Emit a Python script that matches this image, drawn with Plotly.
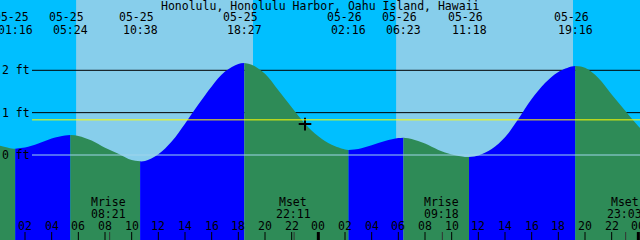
import plotly.graph_objects as go

# ---------------- data ----------------
TITLE = "Honolulu, Honolulu Harbor, Oahu Island, Hawaii"

# hourly tide level readings (ft); hour 0 = 05-25 00:00
hours = list(range(0, 50))
levels = [0.23, 0.155, 0.175, 0.27, 0.39, 0.46, 0.45, 0.34, 0.17, 0.03,
          -0.12, -0.14, 0.02, 0.32, 0.74, 1.19, 1.62, 1.97, 2.15, 2.13,
          1.92, 1.53, 1.13, 0.74, 0.44, 0.24, 0.13, 0.14, 0.23, 0.33,
          0.40, 0.38, 0.27, 0.12, 0.01, -0.045, -0.01, 0.14, 0.42, 0.85,
          1.32, 1.70, 1.96, 2.09, 2.06, 1.82, 1.43, 1.05, 0.68, 0.36]

# high / low tide events
event_dates = ["05-25", "05-25", "05-25", "05-25", "05-26", "05-26", "05-26", "05-26"]
event_times = ["01:16", "05:24", "10:38", "18:27", "02:16", "06:23", "11:18", "19:16"]
event_levels = [0.15, 0.47, -0.15, 2.17, 0.12, 0.41, -0.05, 2.10]

# sun
sunrise_times = ["05-25 05:50", "05-26 05:50"]
sunset_times = ["05-25 19:06", "05-26 19:06"]

# moon
moon_names = ["Mrise", "Mset", "Mrise", "Mset"]
moon_dates = ["05-25", "05-25", "05-26", "05-26"]
moon_times = ["08:21", "22:11", "09:18", "23:03"]

# reference lines
ref_levels = [0, 1, 2]
ref_labels = ["0 ft", "1 ft", "2 ft"]
mean_level = 0.83

# hour ticks
tick_hours = [0, 2, 4, 6, 8, 10, 12, 14, 16, 18, 20, 22, 24,
              26, 28, 30, 32, 34, 36, 38, 40, 42, 44, 46, 48]
tick_labels = ["00", "02", "04", "06", "08", "10", "12", "14", "16", "18", "20", "22", "00",
               "02", "04", "06", "08", "10", "12", "14", "16", "18", "20", "22", "00"]

# current time marker
now_time = "05-25 23:00"
now_level = 0.73

# ---------------- helpers ----------------
def to_hours(date, hm):
    day = int(date.split("-")[1]) - 25
    h, m = hm.split(":")
    return day * 24 + int(h) + int(m) / 60.0

def stamp_hours(s):
    d, t = s.split(" ")
    return to_hours(d, t)

W, H = 640, 240
X_RANGE = [0.125, 48.125]
PX_PER_H = W / (X_RANGE[1] - X_RANGE[0])
Y_RANGE = [-2.007, 3.660]

def py(px):  # pixel-from-top to paper y
    return 1 - px / H

NIGHT = "#00BFFF"
DAY = "#87CEEB"
RISE = "#0000FF"
FALL = "#2E8B57"
FONT = dict(family="DejaVu Sans Mono", size=11.5, color="black")

fig = go.Figure()

# ---------------- tide fills ----------------
ext_h = [to_hours(d, t) for d, t in zip(event_dates, event_times)]
bounds = [hours[0]] + ext_h + [hours[-1]]
bound_lv = [levels[0]] + event_levels + [levels[-1]]
BASE = Y_RANGE[0] - 1
for i in range(len(bounds) - 1):
    a, b = bounds[i], bounds[i + 1]
    xs = [a] + [h for h in hours if a < h < b] + [b]
    ys = [bound_lv[i]] + [lv for h, lv in zip(hours, levels) if a < h < b] + [bound_lv[i + 1]]
    color = RISE if bound_lv[i + 1] > bound_lv[i] else FALL
    fig.add_trace(go.Scatter(x=[a, b], y=[BASE, BASE], mode="lines",
                             line=dict(width=0), hoverinfo="skip", showlegend=False))
    fig.add_trace(go.Scatter(x=xs, y=ys, mode="lines", fill="tonexty", fillcolor=color,
                             line=dict(width=0, shape="spline", color=color),
                             hoverinfo="skip", showlegend=False))

# current time marker
fig.add_trace(go.Scatter(x=[stamp_hours(now_time)], y=[now_level], mode="markers",
                         marker=dict(symbol="cross-thin", size=9,
                                     line=dict(color="black", width=2)),
                         hoverinfo="skip", showlegend=False))

shapes = []
# sky: night / day bands
sr = [stamp_hours(s) for s in sunrise_times]
ss = [stamp_hours(s) for s in sunset_times]
edges = [-1] + sorted(sr + ss) + [50]
for i in range(len(edges) - 1):
    col = NIGHT if i % 2 == 0 else DAY
    shapes.append(dict(type="rect", xref="x", yref="paper", x0=edges[i], x1=edges[i + 1],
                       y0=0, y1=1, fillcolor=col, line=dict(width=0), layer="below"))

label_x0 = 32 / W
# black reference lines (under tide)
for lv in ref_levels:
    if lv == 0:
        continue
    shapes.append(dict(type="line", xref="paper", yref="y", x0=label_x0, x1=1, y0=lv, y1=lv,
                       line=dict(color="black", width=1), layer="below"))
# datum line and mean line (over tide)
shapes.append(dict(type="line", xref="paper", yref="y", x0=label_x0, x1=1, y0=0, y1=0,
                   line=dict(color="#9FD5EC", width=1), layer="above"))
shapes.append(dict(type="line", xref="paper", yref="y", x0=label_x0, x1=1,
                   y0=mean_level, y1=mean_level,
                   line=dict(color="#FFFF00", width=1), layer="above"))

# hour tick marks
tick_h_paper = 8 / H
half = 1.5 / PX_PER_H
for h in tick_hours:
    if h % 24 == 0:
        shapes.append(dict(type="rect", xref="x", yref="paper", x0=h - half, x1=h + half,
                           y0=0, y1=tick_h_paper, fillcolor="black", line=dict(width=0),
                           layer="above"))
    else:
        shapes.append(dict(type="line", xref="x", yref="paper", x0=h, x1=h,
                           y0=0, y1=tick_h_paper, line=dict(color="black", width=1),
                           layer="above"))
# moon marks
for d, t in zip(moon_dates, moon_times):
    h = to_hours(d, t)
    shapes.append(dict(type="line", xref="x", yref="paper", x0=h, x1=h,
                       y0=0, y1=tick_h_paper, line=dict(color="#333333", width=1),
                       layer="above"))

annotations = []
def ann(x, y, text, xref="x", xanchor="center", xshift=0):
    annotations.append(dict(x=x, y=y, xref=xref, yref="paper", text=text, showarrow=False,
                            xanchor=xanchor, yanchor="middle", xshift=xshift,
                            font=FONT, borderpad=0, borderwidth=0))

ann(0.5, py(5.5), TITLE, xref="paper")
for d, t, h in zip(event_dates, event_times, ext_h):
    ann(h, py(17.5), d, xshift=-4)
    ann(h, py(30), t)
for lv, lab in zip(ref_levels, ref_labels):
    annotations.append(dict(x=0, y=lv, xref="paper", yref="y", text=lab, showarrow=False,
                            xanchor="left", yanchor="middle", xshift=1.5,
                            font=FONT, borderpad=0, borderwidth=0))
for h, lab in zip(tick_hours, tick_labels):
    ann(h, py(226), lab)
for n, d, t in zip(moon_names, moon_dates, moon_times):
    h = to_hours(d, t)
    ann(h, py(201.7), n, xshift=-1)
    ann(h, py(213.5), t, xshift=-1)

fig.update_layout(
    width=W, height=H, autosize=False,
    margin=dict(l=0, r=0, t=0, b=0, pad=0),
    paper_bgcolor=NIGHT, plot_bgcolor=NIGHT,
    xaxis=dict(range=X_RANGE, visible=False, fixedrange=True),
    yaxis=dict(range=Y_RANGE, visible=False, fixedrange=True),
    shapes=shapes, annotations=annotations, showlegend=False,
)

fig.write_html("out.html", config={"displayModeBar": False})
